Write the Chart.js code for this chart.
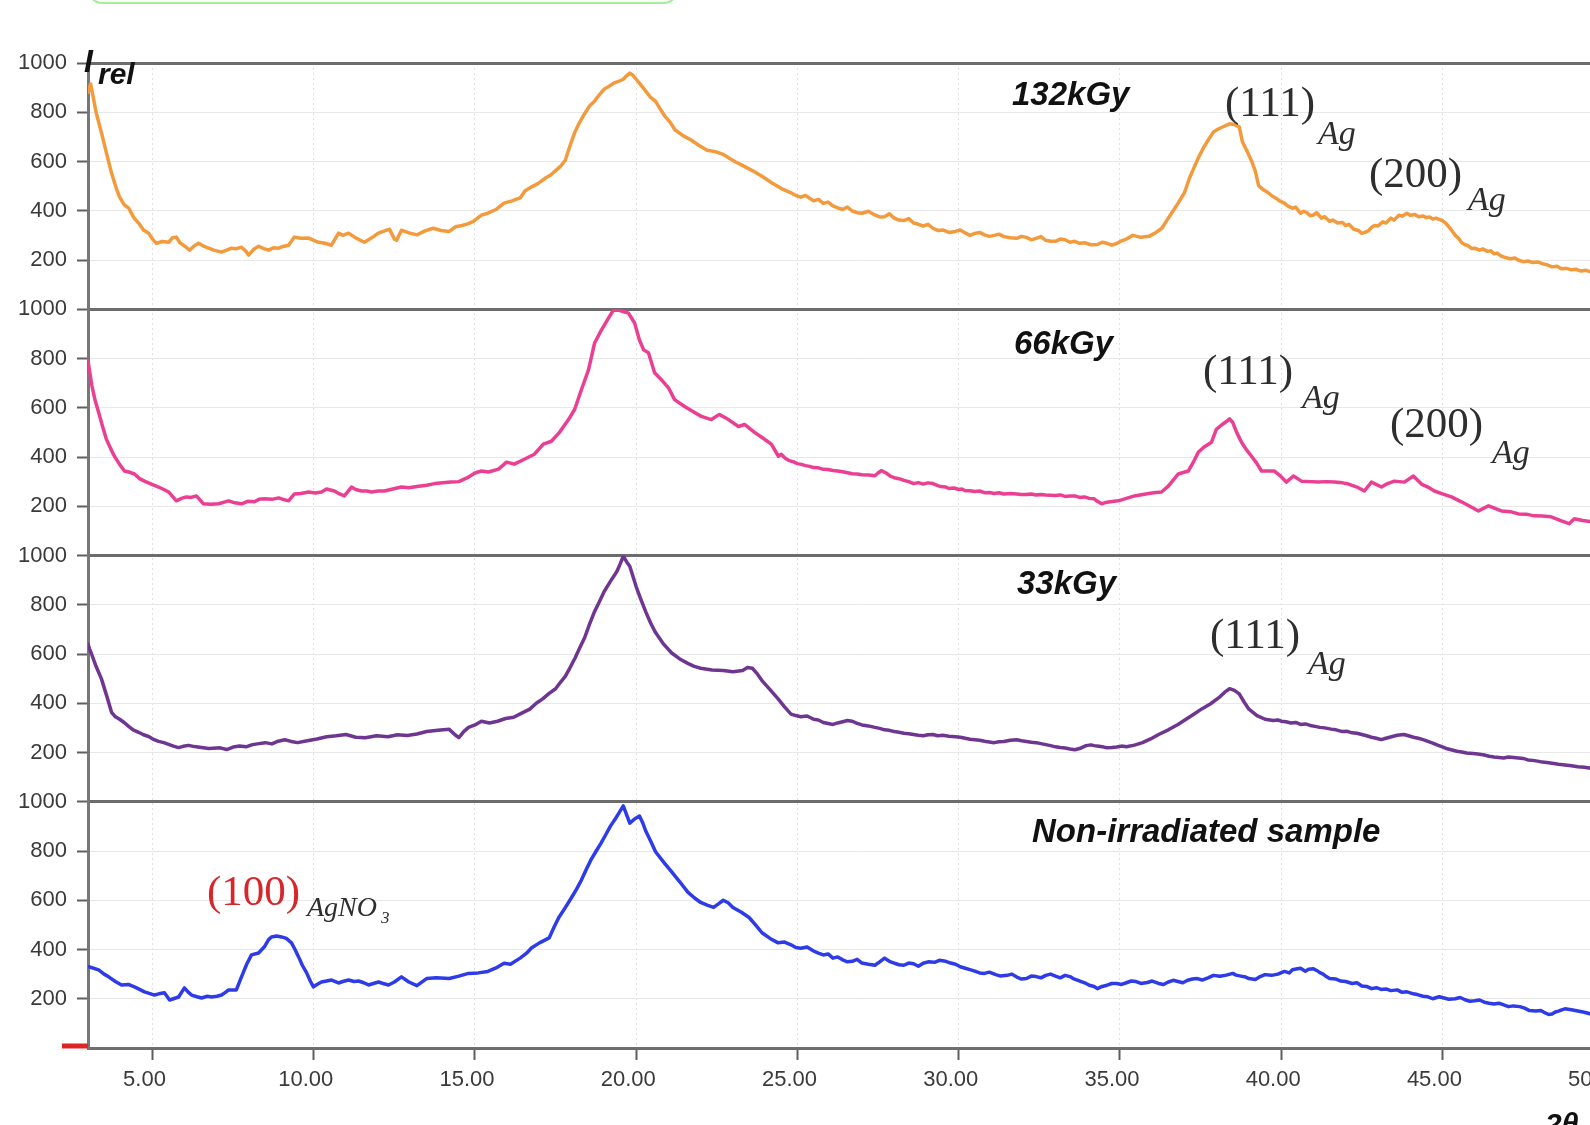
<!DOCTYPE html>
<html>
<head>
<meta charset="utf-8">
<script src="https://cdn.jsdelivr.net/npm/chart.js@4.4.1/dist/chart.umd.min.js"></script>
<style>
html,body{margin:0;padding:0;background:#fff;overflow:hidden;width:1590px;height:1125px;}
#wrap{position:absolute;left:0;top:0;width:1660px;height:1125px;}
#greenbox{position:absolute;left:88px;top:-30px;width:586px;height:30px;border:2px solid #a8eaa0;border-radius:14px;background:#f4fff1;}
</style>
</head>
<body>
<div id="wrap"><canvas id="c"></canvas></div>
<div id="greenbox"></div>
<script>
// ---- data: [2theta, intensity] ----
const dose132 = [[3.0,880],[3.08,915],[3.15,870],[3.25,800],[3.42,715],[3.6,620],[3.73,553],[3.88,490],[3.98,455],[4.12,425],[4.26,411],[4.42,372],[4.57,350],[4.72,322],[4.88,309],[5.0,285],[5.12,268],[5.3,275],[5.5,272],[5.62,290],[5.74,293],[5.85,270],[5.96,260],[6.15,240],[6.3,258],[6.43,268],[6.6,255],[6.74,248],[6.9,240],[7.14,232],[7.3,240],[7.45,248],[7.6,246],[7.76,252],[7.9,235],[7.98,220],[8.15,245],[8.29,256],[8.45,246],[8.6,240],[8.75,250],[8.91,248],[9.05,255],[9.22,260],[9.4,293],[9.6,288],[9.84,289],[10.0,280],[10.15,272],[10.35,268],[10.55,260],[10.77,309],[10.9,300],[11.08,309],[11.3,290],[11.57,272],[11.8,290],[12.0,309],[12.2,318],[12.35,325],[12.5,285],[12.57,280],[12.72,321],[12.95,310],[13.2,302],[13.45,318],[13.7,329],[13.95,320],[14.2,316],[14.4,335],[14.6,340],[14.8,348],[14.95,357],[15.2,382],[15.4,390],[15.65,405],[15.9,431],[16.15,440],[16.4,452],[16.55,480],[16.7,493],[16.95,510],[17.2,534],[17.35,545],[17.5,563],[17.65,580],[17.8,605],[17.95,665],[18.1,720],[18.25,760],[18.4,794],[18.55,825],[18.7,844],[18.85,870],[19.0,893],[19.15,905],[19.3,918],[19.45,925],[19.6,934],[19.7,948],[19.8,959],[19.9,950],[20.0,934],[20.15,910],[20.3,885],[20.45,860],[20.6,844],[20.75,812],[20.9,782],[21.05,760],[21.2,729],[21.45,705],[21.7,687],[21.95,665],[22.2,646],[22.45,640],[22.7,629],[22.9,612],[23.1,597],[23.35,580],[23.6,563],[23.9,540],[24.2,514],[24.5,490],[24.8,473],[24.95,462],[25.1,455],[25.25,462],[25.5,440],[25.65,446],[25.8,430],[25.95,435],[26.1,420],[26.25,412],[26.4,405],[26.55,415],[26.7,399],[26.85,392],[27.0,390],[27.2,398],[27.4,383],[27.55,375],[27.7,376],[27.85,388],[28.0,370],[28.15,362],[28.3,360],[28.45,368],[28.6,350],[28.75,345],[28.9,338],[29.05,345],[29.2,329],[29.35,320],[29.5,322],[29.7,312],[29.9,316],[30.05,322],[30.2,310],[30.35,300],[30.5,308],[30.65,312],[30.8,302],[30.95,296],[31.1,300],[31.25,305],[31.4,295],[31.6,290],[31.8,288],[31.95,296],[32.1,292],[32.25,282],[32.4,288],[32.55,295],[32.7,280],[32.85,276],[33.0,276],[33.15,285],[33.3,282],[33.45,272],[33.6,276],[33.75,268],[33.9,270],[34.1,262],[34.3,263],[34.45,272],[34.6,268],[34.75,260],[34.9,267],[35.05,278],[35.2,285],[35.4,300],[35.65,292],[35.9,296],[36.1,310],[36.3,329],[36.45,360],[36.6,390],[36.8,430],[37.0,473],[37.15,530],[37.3,576],[37.45,620],[37.6,658],[37.75,690],[37.9,720],[38.05,732],[38.2,741],[38.4,753],[38.55,750],[38.7,741],[38.8,679],[38.95,640],[39.1,597],[39.2,560],[39.3,502],[39.45,485],[39.6,473],[39.72,460],[39.85,450],[39.95,440],[40.1,431],[40.2,420],[40.35,410],[40.45,415],[40.6,390],[40.7,398],[40.8,392],[40.9,380],[41.0,383],[41.1,392],[41.25,370],[41.35,376],[41.5,357],[41.6,362],[41.75,350],[41.9,352],[42.0,340],[42.1,345],[42.25,325],[42.4,320],[42.5,308],[42.6,312],[42.7,318],[42.8,332],[42.9,340],[43.0,338],[43.15,355],[43.25,350],[43.4,370],[43.5,362],[43.65,382],[43.75,378],[43.9,390],[44.0,382],[44.15,385],[44.25,376],[44.4,379],[44.5,372],[44.6,375],[44.7,366],[44.8,370],[44.9,365],[45.0,360],[45.1,350],[45.2,335],[45.3,318],[45.4,300],[45.5,288],[45.6,270],[45.7,262],[45.8,258],[45.9,247],[46.0,248],[46.15,240],[46.25,245],[46.4,235],[46.5,238],[46.6,225],[46.7,228],[46.8,218],[46.95,210],[47.1,205],[47.25,208],[47.35,200],[47.5,193],[47.65,196],[47.8,190],[47.95,192],[48.1,185],[48.25,180],[48.4,172],[48.55,175],[48.7,164],[48.85,166],[49.0,160],[49.15,162],[49.3,155],[49.45,158],[49.6,152],[49.8,150],[50.0,145]];

const dose66 = [[3.0,790],[3.06,740],[3.12,690],[3.22,630],[3.33,581],[3.45,525],[3.57,472],[3.7,435],[3.82,403],[3.98,370],[4.13,343],[4.3,338],[4.44,331],[4.6,312],[4.75,302],[5.0,288],[5.19,278],[5.35,268],[5.5,258],[5.62,240],[5.74,222],[5.9,232],[6.05,238],[6.2,236],[6.36,242],[6.5,222],[6.58,210],[6.8,208],[7.05,210],[7.2,216],[7.36,222],[7.55,214],[7.76,210],[7.95,220],[8.16,218],[8.3,228],[8.47,230],[8.7,228],[8.91,234],[9.05,228],[9.22,222],[9.4,250],[9.6,252],[9.84,258],[10.05,254],[10.24,258],[10.4,270],[10.64,262],[10.8,250],[10.95,242],[11.17,278],[11.3,268],[11.48,262],[11.65,262],[11.79,258],[12.0,262],[12.19,262],[12.45,270],[12.72,278],[12.95,275],[13.2,280],[13.5,285],[13.75,292],[14.0,295],[14.25,298],[14.5,300],[14.75,315],[15.0,335],[15.2,343],[15.42,339],[15.73,351],[15.98,379],[16.22,371],[16.53,391],[16.84,411],[17.12,452],[17.37,464],[17.62,500],[17.9,552],[18.09,593],[18.3,673],[18.52,754],[18.71,863],[18.92,915],[19.14,964],[19.29,996],[19.48,996],[19.62,990],[19.76,984],[19.95,944],[20.1,875],[20.23,835],[20.38,823],[20.57,742],[20.78,714],[21.0,681],[21.19,633],[21.5,605],[21.81,581],[22.02,565],[22.33,552],[22.58,573],[22.86,552],[23.17,524],[23.36,532],[23.67,500],[23.98,472],[24.19,452],[24.41,403],[24.5,411],[24.62,395],[24.75,385],[24.88,380],[25.0,373],[25.12,370],[25.25,365],[25.38,362],[25.5,357],[25.65,356],[25.8,350],[25.95,349],[26.1,345],[26.25,343],[26.4,340],[26.55,336],[26.7,332],[26.85,331],[27.0,328],[27.2,327],[27.4,324],[27.5,335],[27.6,345],[27.75,335],[27.88,322],[28.0,316],[28.15,312],[28.3,305],[28.45,300],[28.6,292],[28.75,296],[28.9,290],[29.05,295],[29.2,292],[29.35,284],[29.45,280],[29.6,278],[29.7,272],[29.85,274],[30.0,268],[30.1,270],[30.2,263],[30.35,263],[30.5,260],[30.65,262],[30.8,255],[30.95,256],[31.1,252],[31.25,255],[31.4,250],[31.6,252],[31.8,250],[31.95,248],[32.1,248],[32.25,250],[32.4,246],[32.55,248],[32.7,246],[32.85,245],[33.0,244],[33.15,246],[33.3,240],[33.45,242],[33.6,242],[33.75,236],[33.9,238],[34.05,232],[34.2,230],[34.3,220],[34.43,210],[34.55,215],[34.7,218],[34.95,222],[35.2,232],[35.45,242],[35.8,250],[36.05,255],[36.29,258],[36.5,282],[36.81,331],[37.12,343],[37.28,380],[37.43,419],[37.6,440],[37.84,460],[37.99,512],[38.15,530],[38.3,544],[38.4,555],[38.5,540],[38.62,500],[38.77,460],[38.92,430],[39.08,403],[39.24,375],[39.39,343],[39.6,343],[39.79,343],[40.0,320],[40.16,298],[40.38,323],[40.63,302],[40.9,300],[41.16,298],[41.4,300],[41.65,298],[41.9,295],[42.09,290],[42.35,278],[42.58,262],[42.8,298],[43.11,278],[43.3,292],[43.51,302],[43.82,298],[44.1,323],[44.35,290],[44.55,278],[44.75,262],[45.0,250],[45.28,238],[45.59,218],[45.85,200],[46.12,181],[46.43,202],[46.83,181],[47.1,178],[47.36,169],[47.6,168],[47.84,161],[48.1,160],[48.37,157],[48.69,141],[48.93,129],[49.09,149],[49.35,142],[49.62,137],[50.0,130]];

const dose33 = [[3.0,640],[3.05,620],[3.11,600],[3.25,550],[3.42,498],[3.58,430],[3.73,363],[3.85,345],[3.98,335],[4.12,322],[4.26,306],[4.4,292],[4.57,282],[4.72,272],[4.88,265],[5.05,252],[5.19,245],[5.35,240],[5.5,233],[5.65,226],[5.81,220],[5.95,225],[6.12,229],[6.3,224],[6.52,220],[6.75,216],[7.1,219],[7.3,212],[7.5,222],[7.7,226],[7.9,223],[8.1,232],[8.3,236],[8.5,240],[8.7,235],[8.9,246],[9.1,252],[9.3,245],[9.5,240],[9.8,248],[10.1,255],[10.4,264],[10.7,268],[11.0,273],[11.3,262],[11.6,260],[11.95,268],[12.3,264],[12.6,272],[12.9,269],[13.2,275],[13.5,285],[13.85,290],[14.2,294],[14.4,270],[14.5,260],[14.65,285],[14.8,302],[15.0,312],[15.2,327],[15.45,320],[15.7,327],[15.95,338],[16.2,343],[16.45,360],[16.7,376],[16.9,400],[17.1,418],[17.3,440],[17.5,459],[17.65,485],[17.8,509],[17.95,545],[18.1,583],[18.25,625],[18.4,666],[18.55,720],[18.7,770],[18.85,810],[19.0,852],[19.2,895],[19.4,935],[19.5,965],[19.6,997],[19.7,975],[19.8,956],[19.9,915],[20.0,873],[20.15,820],[20.3,770],[20.45,725],[20.6,687],[20.85,640],[21.1,604],[21.35,580],[21.6,562],[21.8,550],[22.0,542],[22.35,535],[22.7,533],[23.0,528],[23.3,533],[23.45,545],[23.6,542],[23.75,520],[23.9,492],[24.15,455],[24.4,418],[24.6,385],[24.8,356],[24.95,350],[25.1,345],[25.3,348],[25.5,335],[25.65,332],[25.8,322],[25.95,318],[26.1,314],[26.25,320],[26.4,325],[26.55,330],[26.7,327],[26.85,318],[27.0,312],[27.2,308],[27.4,302],[27.55,298],[27.7,292],[27.85,290],[28.0,285],[28.15,282],[28.3,278],[28.45,276],[28.6,273],[28.75,270],[28.9,268],[29.05,272],[29.2,273],[29.35,268],[29.5,270],[29.7,266],[29.9,264],[30.05,262],[30.2,258],[30.35,254],[30.5,252],[30.65,250],[30.8,246],[30.95,243],[31.1,240],[31.25,244],[31.4,245],[31.6,250],[31.8,252],[31.95,248],[32.1,245],[32.25,242],[32.4,240],[32.55,236],[32.7,232],[32.85,228],[33.0,223],[33.15,220],[33.3,218],[33.45,214],[33.6,211],[33.75,216],[33.85,222],[33.95,228],[34.1,231],[34.2,228],[34.35,225],[34.5,222],[34.6,219],[34.75,220],[34.9,222],[35.05,226],[35.2,223],[35.45,230],[35.7,240],[35.95,255],[36.2,273],[36.5,292],[36.8,314],[37.05,335],[37.3,356],[37.55,378],[37.8,397],[38.1,426],[38.25,445],[38.4,459],[38.55,452],[38.7,438],[38.85,405],[39.0,376],[39.25,350],[39.5,335],[39.75,330],[39.9,332],[40.0,327],[40.15,325],[40.3,320],[40.45,322],[40.6,314],[40.75,316],[40.9,310],[41.05,306],[41.2,302],[41.35,300],[41.55,295],[41.7,292],[41.9,285],[42.05,286],[42.2,280],[42.35,278],[42.5,273],[42.65,268],[42.8,262],[42.95,258],[43.1,252],[43.25,258],[43.45,265],[43.6,270],[43.8,273],[43.95,268],[44.1,262],[44.25,258],[44.4,252],[44.55,245],[44.7,238],[44.85,230],[45.0,223],[45.15,215],[45.3,210],[45.45,205],[45.6,202],[45.75,198],[45.95,196],[46.1,194],[46.3,190],[46.45,185],[46.6,182],[46.75,180],[46.9,178],[47.05,182],[47.2,180],[47.35,178],[47.5,176],[47.65,170],[47.8,168],[47.95,165],[48.1,161],[48.3,158],[48.45,155],[48.6,152],[48.8,149],[49.0,146],[49.2,142],[49.4,140],[49.6,136],[49.8,134],[50.0,132]];

const nonIrradiated = [[3.0,330],[3.05,329],[3.33,317],[3.5,300],[3.64,289],[3.85,270],[4.04,256],[4.25,258],[4.44,248],[4.6,238],[4.75,228],[4.9,222],[5.06,215],[5.2,220],[5.37,224],[5.53,195],[5.65,200],[5.81,207],[5.99,244],[6.1,228],[6.21,215],[6.38,208],[6.52,203],[6.7,210],[6.83,207],[7.0,210],[7.14,215],[7.25,225],[7.36,236],[7.6,236],[7.76,289],[7.92,340],[8.07,378],[8.29,386],[8.47,411],[8.6,440],[8.69,451],[8.85,455],[9.0,451],[9.15,445],[9.31,427],[9.42,400],[9.53,370],[9.65,335],[9.78,305],[9.9,270],[9.99,248],[10.1,258],[10.24,268],[10.4,272],[10.55,276],[10.77,264],[10.9,270],[11.08,276],[11.25,270],[11.39,272],[11.55,265],[11.7,256],[11.85,262],[12.01,268],[12.15,262],[12.32,256],[12.5,268],[12.72,289],[12.95,268],[13.2,253],[13.5,282],[13.8,285],[14.2,282],[14.5,292],[14.8,303],[15.1,305],[15.4,311],[15.65,325],[15.9,344],[16.1,340],[16.4,365],[16.6,385],[16.75,406],[17.0,427],[17.3,447],[17.45,490],[17.6,530],[17.8,570],[18.0,612],[18.15,645],[18.3,682],[18.45,725],[18.6,765],[18.75,798],[18.9,830],[19.05,865],[19.2,901],[19.35,930],[19.5,962],[19.6,983],[19.7,948],[19.8,913],[19.95,930],[20.1,942],[20.2,915],[20.3,880],[20.45,840],[20.6,797],[20.85,755],[21.1,715],[21.35,675],[21.6,633],[21.8,610],[22.0,591],[22.2,580],[22.4,571],[22.55,585],[22.7,600],[22.85,590],[23.0,571],[23.25,552],[23.5,530],[23.7,500],[23.9,468],[24.15,445],[24.4,427],[24.6,430],[24.8,419],[24.95,408],[25.1,405],[25.3,410],[25.5,394],[25.65,385],[25.8,378],[25.95,382],[26.1,365],[26.25,370],[26.4,358],[26.55,350],[26.7,352],[26.85,360],[27.0,345],[27.2,340],[27.4,336],[27.55,350],[27.7,365],[27.85,352],[28.0,345],[28.15,338],[28.3,336],[28.45,345],[28.6,342],[28.75,332],[28.9,344],[29.05,350],[29.25,348],[29.4,356],[29.6,352],[29.75,345],[29.9,340],[30.05,330],[30.2,324],[30.35,318],[30.5,312],[30.65,305],[30.8,303],[30.95,308],[31.15,298],[31.3,292],[31.5,295],[31.65,300],[31.8,288],[31.95,280],[32.1,282],[32.25,292],[32.4,290],[32.55,285],[32.7,295],[32.85,300],[33.0,292],[33.15,285],[33.3,295],[33.45,290],[33.55,282],[33.7,275],[33.8,270],[33.95,262],[34.05,255],[34.2,250],[34.3,241],[34.45,250],[34.6,255],[34.75,262],[34.9,262],[35.05,258],[35.2,265],[35.35,272],[35.5,270],[35.65,262],[35.85,266],[36.0,272],[36.2,262],[36.35,258],[36.5,268],[36.65,275],[36.8,270],[36.95,265],[37.1,275],[37.25,280],[37.4,282],[37.55,276],[37.75,286],[37.9,295],[38.1,291],[38.3,296],[38.5,303],[38.6,296],[38.75,292],[38.9,288],[39.0,282],[39.2,278],[39.35,290],[39.5,298],[39.7,295],[39.9,300],[40.1,311],[40.25,305],[40.35,318],[40.5,322],[40.6,324],[40.75,312],[40.85,320],[41.0,322],[41.1,315],[41.2,306],[41.3,300],[41.4,290],[41.5,282],[41.7,280],[41.85,272],[42.0,270],[42.2,262],[42.35,265],[42.5,252],[42.65,250],[42.8,241],[42.95,245],[43.1,238],[43.25,240],[43.4,233],[43.6,236],[43.75,226],[43.9,228],[44.1,220],[44.25,216],[44.4,210],[44.55,208],[44.7,200],[44.9,208],[45.05,203],[45.2,198],[45.4,200],[45.55,205],[45.7,196],[45.85,190],[46.0,192],[46.15,195],[46.3,186],[46.45,182],[46.6,179],[46.75,182],[46.9,175],[47.05,168],[47.2,171],[47.4,168],[47.55,162],[47.7,152],[47.9,150],[48.05,152],[48.15,145],[48.3,136],[48.4,138],[48.5,146],[48.6,150],[48.7,155],[48.8,159],[49.0,155],[49.2,150],[49.4,145],[49.6,138],[49.8,132],[50.0,135]];

const seriesNames = ['132kGy', '66kGy', '33kGy', 'Non-irradiated sample'];
const xTickValues = [5, 10, 15, 20, 25, 30, 35, 40, 45, 50];
const yTickValues = [0, 200, 400, 600, 800, 1000];

// ---- styling ----
const seriesData = [dose132, dose66, dose33, nonIrradiated];
const seriesColors = ['#f39a3c', '#ea3f92', '#6e3690', '#2e3be8'];
const panelIds = ['y1', 'y2', 'y3', 'y4'];
const SANS = '"Liberation Sans", Arial, sans-serif';
const SERIF = '"Liberation Serif", "Times New Roman", serif';

const notes = [
  {t:'I', x:84, y:72, f:'italic bold 32px ' + SANS, c:'#111'},
  {t:'rel', x:98, y:84, f:'italic bold 30px ' + SANS, c:'#111'},
  {t:'132kGy', x:1012, y:105, f:'italic bold 33px ' + SANS, c:'#111'},
  {t:'66kGy', x:1014, y:354, f:'italic bold 33px ' + SANS, c:'#111'},
  {t:'33kGy', x:1017, y:594, f:'italic bold 33px ' + SANS, c:'#111'},
  {t:'Non-irradiated sample', x:1032, y:842, f:'italic bold 33px ' + SANS, c:'#111'},
  {t:'(111)', x:1225, y:116, f:'43px ' + SERIF, c:'#2e2e2e'},
  {t:'Ag', x:1318, y:144, f:'italic 34px ' + SERIF, c:'#2e2e2e'},
  {t:'(200)', x:1369, y:187, f:'43px ' + SERIF, c:'#2e2e2e'},
  {t:'Ag', x:1468, y:210, f:'italic 34px ' + SERIF, c:'#2e2e2e'},
  {t:'(111)', x:1203, y:384, f:'43px ' + SERIF, c:'#2e2e2e'},
  {t:'Ag', x:1302, y:408, f:'italic 34px ' + SERIF, c:'#2e2e2e'},
  {t:'(200)', x:1390, y:437, f:'43px ' + SERIF, c:'#2e2e2e'},
  {t:'Ag', x:1492, y:463, f:'italic 34px ' + SERIF, c:'#2e2e2e'},
  {t:'(111)', x:1210, y:648, f:'43px ' + SERIF, c:'#2e2e2e'},
  {t:'Ag', x:1308, y:674, f:'italic 34px ' + SERIF, c:'#2e2e2e'},
  {t:'(100)', x:207, y:905, f:'43px ' + SERIF, c:'#d8262a'},
  {t:'AgNO', x:307, y:916, f:'italic 28px ' + SERIF, c:'#2e2e2e'},
  {t:'3', x:381, y:923, f:'italic 17px ' + SERIF, c:'#2e2e2e'},
  {t:'2θ', x:1545, y:1134, f:'italic bold 30px ' + SANS, c:'#111'}
];

const notesPlugin = {
  id: 'notes',
  afterDraw(chart) {
    const ctx = chart.ctx;
    ctx.save();
    ctx.textAlign = 'left';
    ctx.textBaseline = 'alphabetic';
    notes.forEach(n => { ctx.font = n.f; ctx.fillStyle = n.c; ctx.fillText(n.t, n.x, n.y); });
    const ys = chart.scales.y4;
    const py = ys.getPixelForValue(0) - 2;
    ctx.strokeStyle = '#e02424';
    ctx.lineWidth = 5;
    ctx.beginPath();
    ctx.moveTo(ys.right - 26, py);
    ctx.lineTo(ys.right, py);
    ctx.stroke();
    ctx.restore();
  }
};

function yScale(weight) {
  return {
    type: 'linear', position: 'left', stack: 'panels', stackWeight: 1, weight: weight,
    min: 0, max: 1000,
    afterFit(s) { s.width = 88; },
    afterBuildTicks(s) { s.ticks = yTickValues.map(v => ({value: v})); },
    grid: {
      color: c => (c.tick && c.tick.value === 1000) ? '#6c6c6c' : ((c.tick && c.tick.value === 0) ? 'rgba(0,0,0,0)' : '#e8e8e8'),
      lineWidth: c => (c.tick && c.tick.value === 1000) ? 3 : 1,
      tickColor: c => (c.tick && c.tick.value === 0) ? 'rgba(0,0,0,0)' : '#5e5e5e',
      tickLength: 11, tickWidth: 2, drawTicks: true
    },
    border: {display: true, color: '#777', width: 3},
    ticks: {
      font: {family: SANS, size: 22}, color: '#3a3a3a', padding: 10, autoSkip: false,
      callback: v => v === 0 ? '' : String(v)
    }
  };
}

const scales = {
  x: {
    type: 'linear', position: 'bottom', min: 3, max: 50.6,
    afterFit(s) { s.height = 77; },
    afterBuildTicks(s) { s.ticks = xTickValues.map(v => ({value: v})); },
    grid: {color: '#e0e0e0', lineWidth: 1, tickColor: '#5e5e5e', tickLength: 12, tickWidth: 2, tickBorderDash: []},
    border: {display: true, color: '#6e6e6e', width: 3, dash: [2, 3]},
    ticks: {
      font: {family: SANS, size: 22}, color: '#3a3a3a', padding: 7, labelOffset: -8,
      autoSkip: false, maxRotation: 0, callback: v => Number(v).toFixed(2)
    }
  },
  y1: yScale(4), y2: yScale(3), y3: yScale(2), y4: yScale(1)
};

new Chart(document.getElementById('c'), {
  type: 'line',
  data: {
    datasets: seriesData.map((d, i) => ({
      label: seriesNames[i],
      data: d.map(p => ({x: p[0], y: p[1]})),
      yAxisID: panelIds[i],
      borderColor: seriesColors[i],
      backgroundColor: seriesColors[i],
      borderWidth: 3.5,
      pointRadius: 0,
      tension: 0,
      fill: false,
      borderJoinStyle: 'round',
      borderCapStyle: 'round'
    }))
  },
  options: {
    responsive: true,
    maintainAspectRatio: false,
    devicePixelRatio: 1,
    animation: false,
    layout: {padding: {top: 63, left: 0, right: 37, bottom: 0}},
    plugins: {legend: {display: false}, tooltip: {enabled: false}},
    scales: scales
  },
  plugins: [notesPlugin]
});
</script>
</body>
</html>
